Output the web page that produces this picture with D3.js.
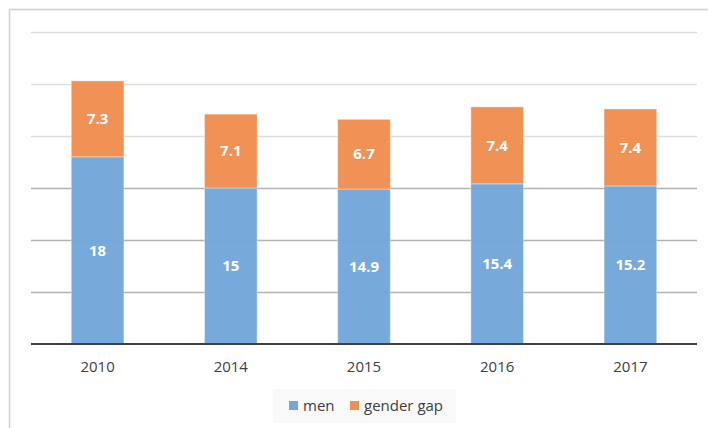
<!DOCTYPE html>
<html>
<head>
<meta charset="utf-8">
<script src="https://cdnjs.cloudflare.com/ajax/libs/d3/7.8.5/d3.min.js"></script>
<style>
  body { margin: 0; background: #fff; }
  svg { display: block; font-family: "Open Sans", "Liberation Sans", sans-serif; }
</style>
</head>
<body>
<svg id="chart" width="708" height="428"></svg>
<script>
var years = ["2010", "2014", "2015", "2016", "2017"];
var men = [18, 15, 14.9, 15.4, 15.2];
var gap = [7.3, 7.1, 6.7, 7.4, 7.4];
var yTicks = [5, 10, 15, 20, 25, 30];
var seriesNames = ["men", "gender gap"];
var colors = ["#71a7da", "#ef8e4e"];

var svg = d3.select("#chart");

// outer frame
svg.append("rect")
	.attr("x", 9.5).attr("y", 9.5)
	.attr("width", 720).attr("height", 440)
	.attr("fill", "none")
	.attr("stroke", "#d0d0d0")
	.attr("stroke-width", 1.5);

var x = d3.scaleBand()
	.domain(years)
	.range([31, 697])
	.paddingInner(0.605)
	.paddingOuter(0.3025);

var y = d3.scaleLinear()
	.domain([0, 30])
	.range([344, 32]);

// gridlines
svg.append("g").selectAll("line")
	.data(yTicks)
	.enter().append("line")
	.attr("x1", 31).attr("x2", 697)
	.attr("y1", function (d) { return Math.round(y(d)) + 0.5; })
	.attr("y2", function (d) { return Math.round(y(d)) + 0.5; })
	.attr("stroke", function (d) { return d <= 15 ? "#b4b4b4" : "#dedede"; })
	.attr("stroke-width", 1.5);

var rows = years.map(function (yr, i) {
	return { year: yr, men: men[i], "gender gap": gap[i] };
});
var stacked = d3.stack().keys(seriesNames)(rows);

var layers = svg.append("g").selectAll("g")
	.data(stacked)
	.enter().append("g")
	.attr("fill", function (d, i) { return colors[i]; });

layers.selectAll("rect")
	.data(function (d) { return d; })
	.enter().append("rect")
	.attr("x", function (d) { return x(d.data.year); })
	.attr("width", x.bandwidth())
	.attr("y", function (d) { return y(d[1]); })
	.attr("height", function (d) { return y(d[0]) - y(d[1]); })
	.attr("fill-opacity", 0.96)
	.attr("stroke", "rgba(255,255,255,0.35)")
	.attr("stroke-width", 1);

// value labels
stacked.forEach(function (layer, k) {
	svg.append("g").selectAll("text")
		.data(layer)
		.enter().append("text")
		.attr("x", function (d) { return x(d.data.year) + x.bandwidth() / 2; })
		.attr("y", function (d) { return (y(d[0]) + y(d[1])) / 2; })
		.attr("dy", "0.35em")
		.attr("text-anchor", "middle")
		.attr("fill", "#fff")
		.attr("font-weight", "bold")
		.attr("font-size", 15)
		.text(function (d) { return d.data[layer.key]; });
});

// x axis
var xAxis = svg.append("g")
	.attr("transform", "translate(0,344)")
	.call(d3.axisBottom(x).tickSize(0).tickPadding(17));
xAxis.select(".domain")
	.attr("d", "M31,0H697")
	.attr("stroke", "#404040")
	.attr("stroke-width", 2.2);
xAxis.selectAll("text")
	.attr("font-family", "\"Open Sans\", sans-serif")
	.attr("font-size", 15)
	.attr("fill", "#404040");

// legend
var legend = svg.append("g");
legend.append("rect")
	.attr("x", 273).attr("y", 389)
	.attr("width", 183).attr("height", 34)
	.attr("fill", "#f9f9f9");
var lx = [289, 350];
seriesNames.forEach(function (name, i) {
	legend.append("rect")
		.attr("x", lx[i]).attr("y", 401)
		.attr("width", 9).attr("height", 9)
		.attr("fill", colors[i]);
	legend.append("text")
		.attr("x", lx[i] + 14).attr("y", 406)
		.attr("dy", "0.35em")
		.attr("font-size", 15)
		.attr("fill", "#404040")
		.text(name);
});
</script>
</body>
</html>
